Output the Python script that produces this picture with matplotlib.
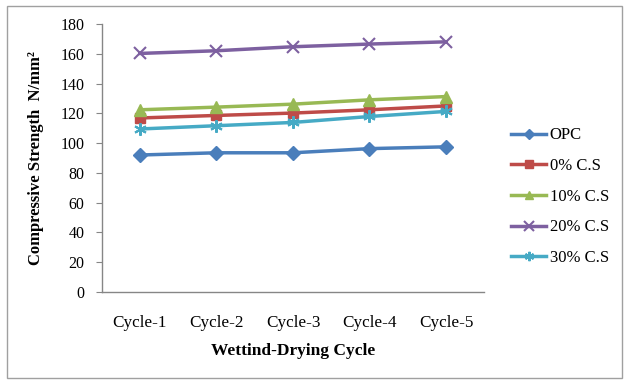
import matplotlib
matplotlib.use("Agg")
import matplotlib.pyplot as plt
from matplotlib.patches import Rectangle

plt.rcParams['font.family'] = ['Liberation Serif', 'DejaVu Serif']

cycles = ['Cycle-1', 'Cycle-2', 'Cycle-3', 'Cycle-4', 'Cycle-5']
opc = [92, 93.5, 93.5, 96.3, 97.5]
cs0 = [116.9, 118.6, 120.2, 122.4, 125]
cs10 = [122.4, 124.2, 126.2, 129.1, 131.3]
cs20 = [160.3, 162.1, 164.8, 166.6, 168.1]
cs30 = [109.5, 111.7, 113.9, 117.9, 121.3]

series = [
    ('OPC', opc, '#4A7EBB', 'D', 7),
    ('0% C.S', cs0, '#BE4B48', 's', 7),
    ('10% C.S', cs10, '#98B954', '^', 8),
    ('20% C.S', cs20, '#7D60A0', 'x', 9),
    ('30% C.S', cs30, '#46AAC5', (6, 2, 0), 9),
]

fig = plt.figure(figsize=(6.28, 3.83), dpi=100)
ax = fig.add_axes([0.162, 0.238, 0.609, 0.699])

x = list(range(len(cycles)))
for name, vals, col, mk, ms in series:
    thin = mk == 'x' or isinstance(mk, tuple)
    ax.plot(x, vals, color=col, lw=2.5, marker=mk, markersize=ms,
            markeredgewidth=1.5 if thin else 1,
            markerfacecolor=col, markeredgecolor=col, label=name)

ax.set_xlim(-0.5, 4.5)
ax.set_ylim(0, 180)
ax.set_yticks(range(0, 181, 20))
ax.set_xticks(x)
ax.set_xticklabels(cycles, fontsize=12.3)
ax.tick_params(axis='y', labelsize=11.5, length=4.5, color='#868686', direction='out', pad=8)
ax.tick_params(axis='x', length=0, pad=17)
for s in ['top', 'right']:
    ax.spines[s].set_visible(False)
for s in ['left', 'bottom']:
    ax.spines[s].set_color('#868686')
    ax.spines[s].set_linewidth(1)

ax.set_xlabel('Wettind-Drying Cycle', fontsize=12.5, fontweight='bold')
ax.xaxis.set_label_coords(0.5, -0.19)
ax.set_ylabel('Compressive Strength  N/mm²', fontsize=12, fontweight='bold')
ax.yaxis.set_label_coords(-0.15, 0.5)

leg = ax.legend(loc='center left', bbox_to_anchor=(1.03, 0.355), frameon=False,
                fontsize=12, handlelength=2.15, labelspacing=0.88, handletextpad=0.2,
                markerscale=0.75)

fig.patches.append(Rectangle((0.011, 0.012), 0.98, 0.973, transform=fig.transFigure,
                             fill=False, edgecolor='#A0A0A0', lw=1))

fig.savefig('out.png', dpi=100)
